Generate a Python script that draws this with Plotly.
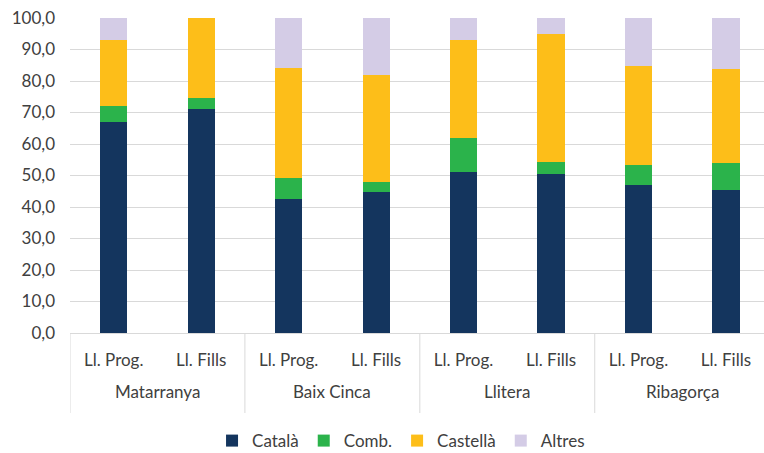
import plotly.graph_objects as go

# Regions (outer level) and language-of-use item (inner level)
regions = ["Matarranya", "Matarranya", "Baix Cinca", "Baix Cinca",
           "Llitera", "Llitera", "Ribagorça", "Ribagorça"]
items = ["Ll. Prog.", "Ll. Fills"] * 4

# Percentages per language group
catala = [67.0, 71.0, 42.6, 44.9, 51.0, 50.5, 46.9, 45.4]
comb = [5.2, 3.5, 6.5, 3.1, 10.9, 3.8, 6.4, 8.5]
castella = [20.7, 25.5, 34.9, 33.9, 31.0, 40.7, 31.4, 30.0]
altres = [7.1, 0.0, 16.0, 18.1, 7.1, 5.0, 15.3, 16.1]

series = [
    ("Català", catala, "#14355e"),
    ("Comb.", comb, "#2bb34b"),
    ("Castellà", castella, "#fdbe19"),
    ("Altres", altres, "#d4cce6"),
]

FONT = "Lato"
TXT = "#404040"
LINE = "#d9d9d9"

pos = list(range(len(items)))

fig = go.Figure()
for name, vals, color in series:
    fig.add_trace(go.Bar(
        x=pos, y=vals, name=name,
        marker=dict(color=color, line=dict(width=0)),
        width=0.31,
    ))

# Region labels centred under each group, with divider lines between groups
groups = []
for i, r in enumerate(regions):
    if not groups or groups[-1][0] != r:
        groups.append([r, i, i])
    else:
        groups[-1][2] = i

for r, a, b in groups:
    fig.add_annotation(x=(a + b) / 2, y=-0.187, xref="x", yref="paper",
                       text=r, showarrow=False, yanchor="middle",
                       font=dict(family=FONT, size=17, color=TXT))
    fig.add_shape(type="line", xref="x", yref="paper",
                  x0=a - 0.5, x1=a - 0.5, y0=0, y1=-0.254,
                  line=dict(color=LINE, width=1))

fig.update_layout(
    barmode="stack",
    width=764, height=453,
    margin=dict(l=70, r=0, t=18, b=120, autoexpand=False),
    paper_bgcolor="white", plot_bgcolor="white",
    separators=",.",
    font=dict(family=FONT, size=17, color=TXT),
    legend=dict(orientation="h", x=0.477, xanchor="center", y=-0.343, yanchor="middle",
                font=dict(size=17, color=TXT), traceorder="normal"),
    xaxis=dict(
        range=[-0.5, 7.435], tickvals=pos, ticktext=items,
        showline=True, linecolor=LINE, linewidth=1, showgrid=False,
        zeroline=False, ticks="", ticklabelstandoff=12, automargin=False,
        tickfont=dict(size=17, color=TXT),
    ),
    yaxis=dict(
        range=[0, 100], dtick=10, tickformat=".1f",
        showgrid=True, gridcolor=LINE, gridwidth=1,
        zeroline=False, ticks="", ticklabelstandoff=14, automargin=False,
        tickfont=dict(size=17, color=TXT),
    ),
)

fig.write_html("out.html")
